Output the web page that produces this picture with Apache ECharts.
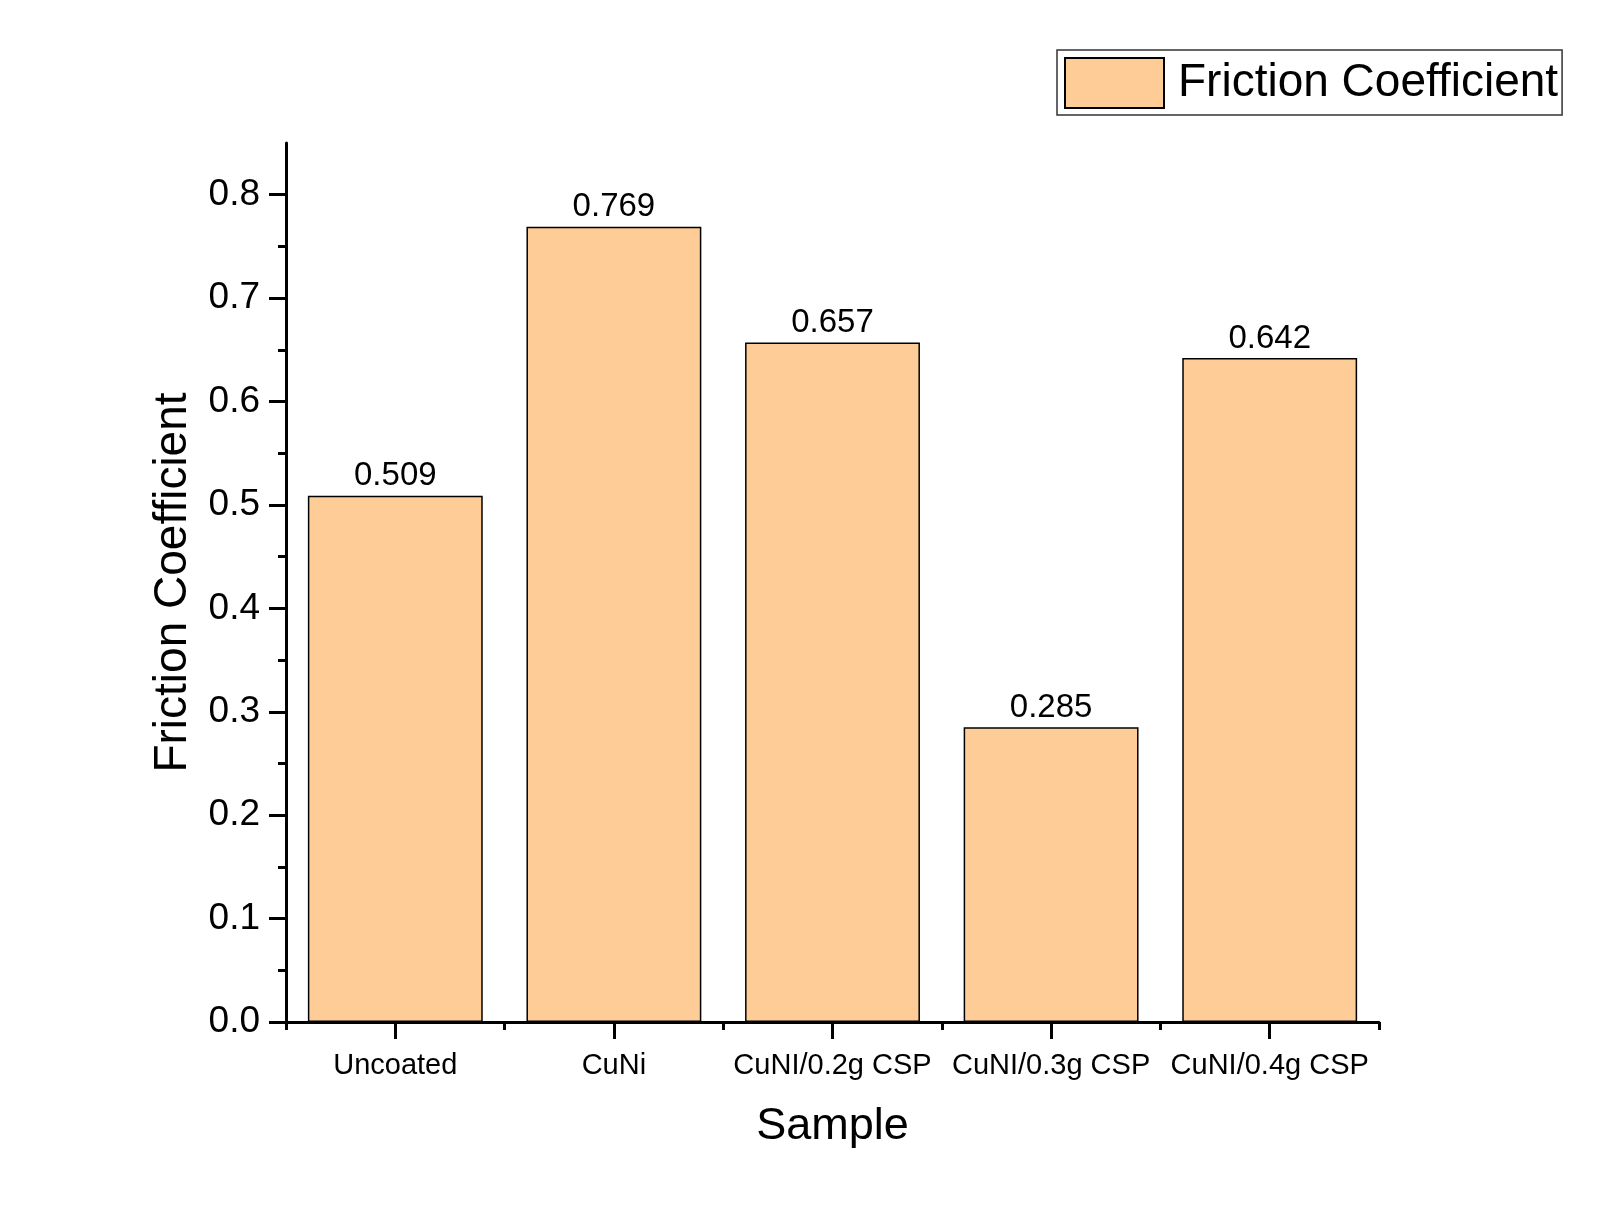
<!DOCTYPE html>
<html>
<head>
<meta charset="utf-8">
<script src="https://cdn.jsdelivr.net/npm/echarts@6/dist/echarts.min.js"></script>
<style>
  html, body { margin: 0; padding: 0; background: #fff; }
  #chart { width: 1600px; height: 1225px; }
</style>
</head>
<body>
<div id="chart"></div>
<script>
// dati
var campioni = ['Uncoated', 'CuNi', 'CuNI/0.2g CSP', 'CuNI/0.3g CSP', 'CuNI/0.4g CSP'];
var attrito = [0.509, 0.769, 0.657, 0.285, 0.642];
var tickPrincipali = [0, 0.1, 0.2, 0.3, 0.4, 0.5, 0.6, 0.7, 0.8];
var tickMinori = [0.05, 0.15, 0.25, 0.35, 0.45, 0.55, 0.65, 0.75];

var font = 'Liberation Sans, Arial, sans-serif';

var grafico = echarts.init(document.getElementById('chart'));
var option = {
  backgroundColor: '#fff',
  animation: false,
  grid: { left: 286, right: 221, top: 143, bottom: 203 },
  legend: {
    left: 1057, top: 50,
    padding: [7, 4, 6, 7],
    itemWidth: 99, itemHeight: 50,
    icon: 'rect',
    borderColor: '#333', borderWidth: 1.5,
    textStyle: { fontFamily: font, fontSize: 46, color: '#000', padding: [0, 0, 0, 9], lineHeight: 50 },
    data: ['Friction Coefficient']
  },
  xAxis: [
    {
      type: 'category',
      data: campioni,
      name: 'Sample',
      nameLocation: 'middle',
      nameGap: 82,
      nameTextStyle: { fontFamily: font, fontSize: 45, color: '#000' },
      axisLine: { show: true, lineStyle: { color: '#000', width: 3 } },
      axisTick: { show: true, interval: 0, alignWithLabel: true, length: 17, lineStyle: { color: '#000', width: 3 } },
      axisLabel: { interval: 0, fontFamily: font, fontSize: 29, color: '#000', margin: 29 }
    },
    {
      type: 'category',
      data: campioni,
      position: 'bottom',
      axisLine: { show: false },
      axisTick: { show: true, interval: 0, length: 8, lineStyle: { color: '#000', width: 3 } },
      axisLabel: { show: false }
    }
  ],
  yAxis: [
    {
      type: 'value',
      min: 0, max: 0.85,
      name: 'Friction Coefficient',
      nameLocation: 'middle',
      nameGap: 90,
      nameTextStyle: { fontFamily: font, fontSize: 46, color: '#000' },
      splitLine: { show: false },
      axisLine: { show: true, lineStyle: { color: '#000', width: 3 } },
      axisTick: { show: true, length: 17, lineStyle: { color: '#000', width: 3 }, customValues: tickPrincipali },
      axisLabel: {
        fontFamily: font, fontSize: 37, color: '#000', margin: 26,
        customValues: tickPrincipali,
        formatter: function (v) { return v.toFixed(1); }
      }
    },
    {
      type: 'value',
      min: 0, max: 0.85,
      position: 'left',
      splitLine: { show: false },
      axisLine: { show: false },
      axisTick: { show: true, length: 8, lineStyle: { color: '#000', width: 3 }, customValues: tickMinori },
      axisLabel: { show: false }
    }
  ],
  series: [
    {
      name: 'Friction Coefficient',
      type: 'bar',
      data: attrito,
      barCategoryGap: '20%',
      itemStyle: { color: '#FECC96', borderColor: '#000', borderWidth: 1.5 },
      label: {
        show: true, position: 'top', distance: 3,
        fontFamily: font, fontSize: 33, color: '#000',
        formatter: function (p) { return p.value.toFixed(3); }
      }
    }
  ]
};
grafico.setOption(option);
</script>
</body>
</html>
